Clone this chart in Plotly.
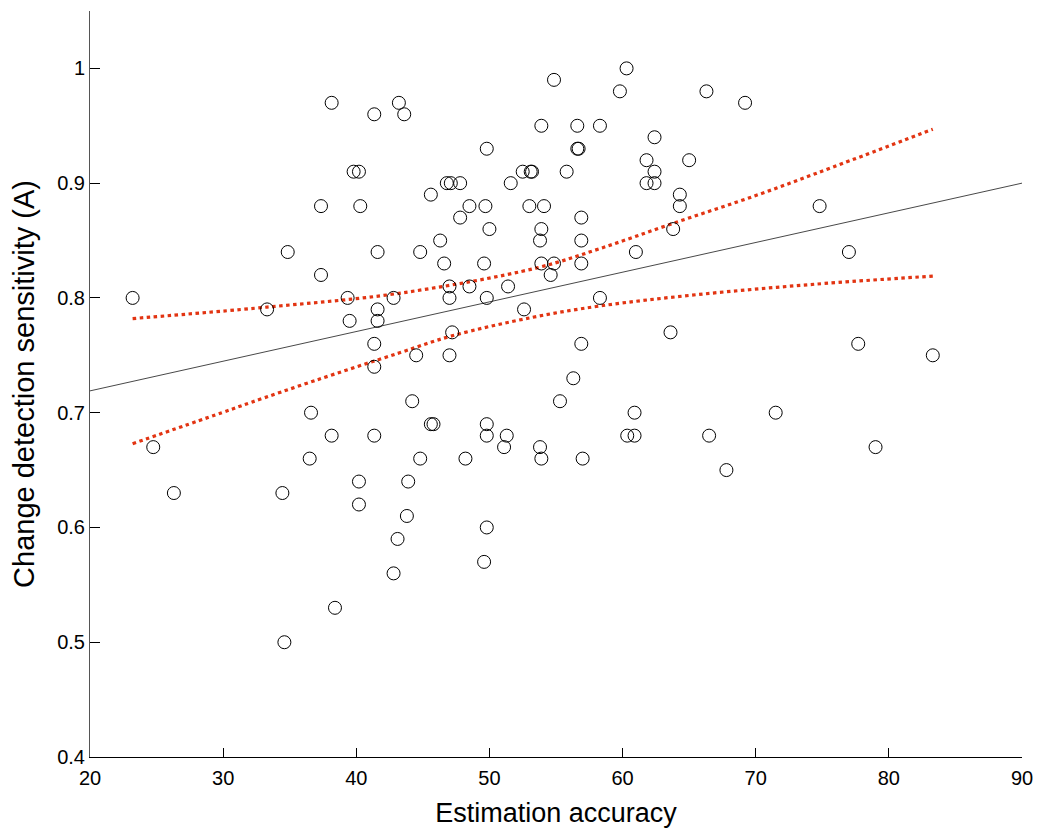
import plotly.graph_objects as go

# Scatter data: estimation accuracy (x) vs change detection sensitivity A (y)
accuracy = [
    60.3,
    54.85,
    59.8, 66.3,
    38.15, 43.2, 69.2,
    41.35, 43.6,
    53.9, 56.6, 58.3,
    62.4,
    49.8, 56.6, 56.7,
    61.8, 65.0,
    39.8, 40.2, 52.5, 53.1, 53.2, 55.8, 62.4,
    46.8, 47.1, 47.8, 51.6, 61.8, 62.4,
    45.6, 64.3,
    37.35, 40.3, 48.5, 49.7, 53.0, 54.1, 64.3, 74.8,
    47.8, 56.9,
    50.0, 53.9, 63.8,
    46.3, 53.8, 56.9,
    34.85, 41.6, 44.8, 61.0, 77.0,
    46.6, 49.6, 53.9, 54.85, 56.9,
    37.35, 54.6,
    47.0, 48.5, 51.4,
    23.2, 39.35, 42.8, 47.0, 49.8, 58.3,
    33.3, 41.6, 52.6,
    39.5, 41.6,
    47.2, 63.6,
    41.35, 56.9, 77.7,
    44.5, 47.0, 83.3,
    41.35,
    56.3,
    44.2, 55.3,
    36.6, 60.9, 71.5,
    45.6, 45.8, 49.8,
    38.15, 41.35, 49.8, 51.3, 60.35, 60.9, 66.5,
    24.75, 51.1, 53.8, 79.0,
    36.5, 44.8, 48.2, 53.9, 57.0,
    67.8,
    40.2, 43.9,
    26.3, 34.45,
    40.2,
    43.8,
    49.8,
    43.1,
    49.6,
    42.8,
    38.4,
    34.6,
]
sensitivity = [
    1.00,
    0.99,
    0.98, 0.98,
    0.97, 0.97, 0.97,
    0.96, 0.96,
    0.95, 0.95, 0.95,
    0.94,
    0.93, 0.93, 0.93,
    0.92, 0.92,
    0.91, 0.91, 0.91, 0.91, 0.91, 0.91, 0.91,
    0.90, 0.90, 0.90, 0.90, 0.90, 0.90,
    0.89, 0.89,
    0.88, 0.88, 0.88, 0.88, 0.88, 0.88, 0.88, 0.88,
    0.87, 0.87,
    0.86, 0.86, 0.86,
    0.85, 0.85, 0.85,
    0.84, 0.84, 0.84, 0.84, 0.84,
    0.83, 0.83, 0.83, 0.83, 0.83,
    0.82, 0.82,
    0.81, 0.81, 0.81,
    0.80, 0.80, 0.80, 0.80, 0.80, 0.80,
    0.79, 0.79, 0.79,
    0.78, 0.78,
    0.77, 0.77,
    0.76, 0.76, 0.76,
    0.75, 0.75, 0.75,
    0.74,
    0.73,
    0.71, 0.71,
    0.70, 0.70, 0.70,
    0.69, 0.69, 0.69,
    0.68, 0.68, 0.68, 0.68, 0.68, 0.68, 0.68,
    0.67, 0.67, 0.67, 0.67,
    0.66, 0.66, 0.66, 0.66, 0.66,
    0.65,
    0.64, 0.64,
    0.63, 0.63,
    0.62,
    0.61,
    0.60,
    0.59,
    0.57,
    0.56,
    0.53,
    0.50,
]

# Regression line
fit_x = [20, 90]
fit_y = [0.719, 0.900]

# Confidence band (upper / lower)
ci_upper_x = [23.2, 33.3, 43.2, 53.5, 58.3, 63.8, 70.2, 75.8, 83.3]
ci_upper_y = [0.782, 0.792, 0.804, 0.826, 0.843, 0.865, 0.890, 0.914, 0.947]
ci_lower_x = [23.2, 29.9, 32.1, 36.9, 43.2, 47.2, 53.2, 58.3, 65.7, 74.5, 83.3]
ci_lower_y = [0.673, 0.700, 0.709, 0.728, 0.752, 0.767, 0.783, 0.793, 0.803, 0.812, 0.819]

x_ticks = [20, 30, 40, 50, 60, 70, 80, 90]
y_ticks = [0.4, 0.5, 0.6, 0.7, 0.8, 0.9, 1.0]
y_tick_labels = ["0.4", "0.5", "0.6", "0.7", "0.8", "0.9", "1"]

RED = "rgb(226,52,18)"
FONT = "Liberation Sans, Arial, sans-serif"

fig = go.Figure()
fig.add_trace(go.Scatter(
    x=fit_x, y=fit_y, mode="lines",
    line=dict(color="#333333", width=0.9), hoverinfo="skip", showlegend=False))
fig.add_trace(go.Scatter(
    x=ci_upper_x, y=ci_upper_y, mode="lines", line_shape="spline",
    line=dict(color=RED, width=3.2, dash="3.5px,3.5px", smoothing=1.0), showlegend=False))
fig.add_trace(go.Scatter(
    x=ci_lower_x, y=ci_lower_y, mode="lines", line_shape="spline",
    line=dict(color=RED, width=3.2, dash="3.5px,3.5px", smoothing=1.0), showlegend=False))
fig.add_trace(go.Scatter(
    x=accuracy, y=sensitivity, mode="markers",
    marker=dict(symbol="circle", size=13, color="rgba(0,0,0,0)",
                line=dict(color="black", width=1)),
    showlegend=False))

fig.update_layout(
    width=1040, height=832,
    margin=dict(l=90, r=18, t=11, b=75),
    paper_bgcolor="white", plot_bgcolor="white",
    font=dict(family=FONT, size=20, color="black"),
    xaxis=dict(
        range=[20, 90], tickvals=x_ticks, ticks="inside", ticklen=9,
        tickcolor="black", showline=True, linecolor="black", linewidth=1,
        showgrid=False, zeroline=False, mirror=False, ticklabelstandoff=3,
        automargin=False,
        title=dict(text="Estimation accuracy", font=dict(size=27), standoff=15),
    ),
    yaxis=dict(
        range=[0.4, 1.05], tickvals=y_ticks, ticktext=y_tick_labels,
        ticks="inside", ticklen=10, tickcolor="black",
        showline=True, linecolor="#555555", linewidth=1,
        showgrid=False, zeroline=False, mirror=False, automargin=False,
        title=dict(text="Change detection sensitivity (A)", font=dict(size=29), standoff=14),
    ),
)

fig.write_html("out.html",
               config={"displayModeBar": False},
               post_script="document.body.style.margin='0';document.body.style.overflow='hidden';")
